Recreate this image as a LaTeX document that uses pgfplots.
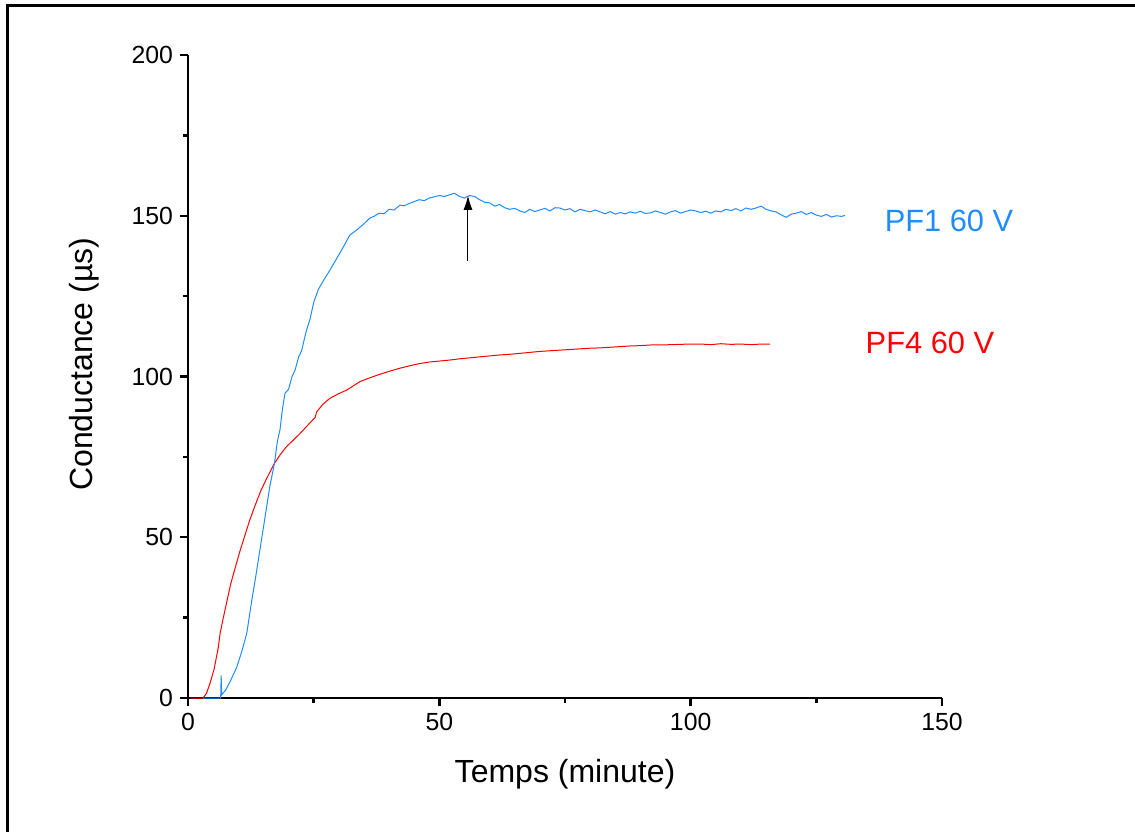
\documentclass[border=0pt]{standalone}
\usepackage{pgfplots}
\pgfplotsset{compat=1.18}
\usepackage{fontspec}
\setmainfont{Liberation Sans}
\usetikzlibrary{arrows.meta}
\definecolor{pfblue}{HTML}{1E8CFF}
\definecolor{pfred}{HTML}{FF0000}

\begin{document}
\begin{tikzpicture}
\begin{axis}[%
scale only axis,
width=377pt,
height=321.5pt,
xmin=0, xmax=150,
ymin=0, ymax=200,
axis x line*=bottom,
axis y line*=left,
axis line style={line width=1.3pt},
tick align=outside,
xtick={0,50,100,150},
ytick={0,50,100,150,200},
minor tick num=1,
major tick length=4pt,
minor tick length=2.5pt,
every tick/.style={black,line width=1.2pt},
tick label style={font=\fontsize{12.4}{14}\selectfont},
/pgf/number format/assume math mode=true,
xlabel={Temps (minute)},
ylabel={Conductance (µs)},
label style={font=\fontsize{16}{18}\selectfont},
xlabel style={at={(axis description cs:0.5,0)},anchor=center,yshift=-38pt},
ylabel style={at={(axis description cs:0,0.519)},anchor=center,yshift=52pt},
clip=false,
]
% PF4 60 V
\addplot[pfred,line width=0.5pt] table {
x y
0.5 0
3.0 0
3.7 1.5
4.4 4.7
5.2 9
6.0 15.5
6.4 20.2
7.1 25.5
7.8 30.5
8.5 35.5
9.3 40
10.3 45.5
11.3 50.5
12.3 55.4
13.5 60.5
14.5 64.5
15.5 67.8
16.4 70.6
17.2 73
18.4 75.8
19.6 78.2
21.0 80.3
22.3 82.3
23.8 84.8
25.3 87.3
25.6 89
26.8 91.3
28.2 93.2
29.9 94.6
31.6 95.8
33.0 97.2
34.2 98.4
36.0 99.5
38.0 100.6
40.0 101.6
42.2 102.6
44.0 103.3
46.0 104
48.0 104.5
50.0 104.8
52.0 105.1
54.0 105.5
56.0 105.8
58.0 106.1
60.0 106.4
62.0 106.7
64.0 106.9
66.0 107.2
68.0 107.5
70.0 107.8
72.0 108
74.0 108.2
76.0 108.4
78.0 108.6
80.0 108.8
82.0 108.9
84.0 109.1
86.0 109.3
88.0 109.5
90.0 109.6
92.0 109.8
94.0 109.8
96.0 109.9
98.0 110
100.0 110.1
102.0 110.1
104.0 109.9
106.0 110.2
108.0 110
110.0 110.1
112.0 109.9
114.0 110.1
115.8 110.1
};
% PF1 60 V
\addplot[pfblue,line width=0.5pt] table {
x y
3.0 0
6.5 0
6.6 7
6.7 1
7.5 2.5
8.5 5.5
9.7 9.6
10.7 14.5
11.7 20.2
12.7 30.5
13.5 38
14.5 48
15.5 58
16.3 66
17.2 73
17.8 80
18.3 83.4
18.8 90
19.3 94.8
20.0 96
20.7 100
21.3 102
22.0 106
22.6 108
23.2 112
23.6 114.5
24.3 118
25.0 123
25.9 127
27.0 130
28.2 133
29.5 136.5
30.8 140
32.2 144
33.5 145.5
35.0 147.5
36.2 149.3
37.0 149.8
38.0 150.8
39.0 150.6
40.0 152
41.0 151.8
42.2 153.3
43.0 153.1
44.0 153.8
45.0 154.4
46.0 155
47.0 154.7
48.0 155.5
49.0 155.9
50.0 156.3
51.0 156
52.0 156.5
53.0 157
54.0 156
55.0 155.5
56.0 156.3
57.0 156
58.0 155
59.0 154.2
60.0 154
61.0 153
62.0 153.5
63.0 152.5
64.0 152
65.0 152.3
66.0 151.5
67.0 151
68.0 152
69.0 151.3
70.0 151.8
71.0 152.3
72.0 151.5
73.0 152.5
74.0 152.4
75.0 151.8
76.0 152.2
77.0 151.2
78.0 152
79.0 151.6
80.0 151.2
81.0 151.8
82.0 151.2
83.0 150.6
84.0 151.3
85.0 150.5
86.0 151
87.0 150.6
88.0 151.2
89.0 150.8
90.0 151.4
91.0 150.7
92.0 150.9
93.0 151.5
94.0 151
95.0 150.5
96.0 151.2
97.0 151.6
98.0 150.8
99.0 151.3
100.0 151.8
101.0 151.5
102.0 151
103.0 151.4
104.0 150.8
105.0 151.5
106.0 151.2
107.0 152
108.0 151.6
109.0 152.2
110.0 151.5
111.0 152.4
112.0 152
113.0 152.4
114.0 153
115.0 152
116.0 151.5
117.0 151.2
118.0 150.3
119.0 149.5
120.0 150.5
121.0 150.8
122.0 151.3
123.0 150.4
124.0 151
125.0 150.2
126.0 149.8
127.0 150.4
128.0 149.6
129.0 150
130.0 149.8
130.7 150.1
};
\draw[black,line width=0.5pt,-{Latex[length=7pt,width=4.5pt]}] (axis cs:55.7,136) -- (axis cs:55.7,156.2);
\node[pfblue,font=\fontsize{15.4}{17}\selectfont] at (axis cs:151.4,148.4) {PF1 60 V};
\node[pfred,font=\fontsize{15.4}{17}\selectfont] at (axis cs:147.6,110.4) {PF4 60 V};
\end{axis}
\draw[line width=1.5pt] (-90pt,-80pt) -- (-90pt,346pt) -- (490pt,346pt);
\pgfresetboundingbox
\useasboundingbox (-94pt,-66.5pt) rectangle (473.5pt,349pt);
\end{tikzpicture}
\end{document}
